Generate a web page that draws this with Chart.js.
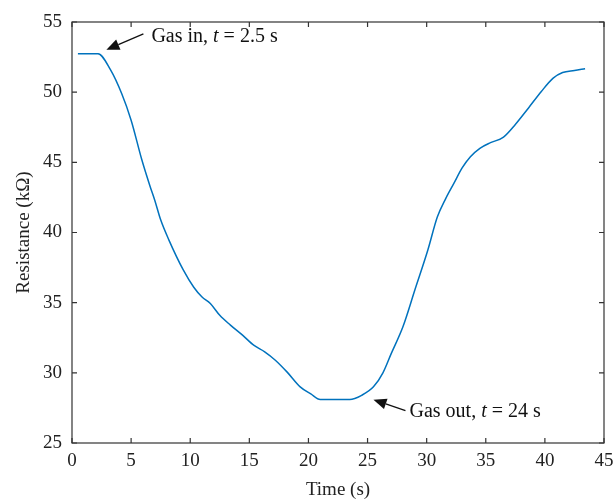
<!DOCTYPE html>
<html>
<head>
<meta charset="utf-8">
<script src="https://cdn.jsdelivr.net/npm/chart.js@4/dist/chart.umd.min.js"></script>
<style>
  html, body { margin: 0; padding: 0; background: #fff; }
  #wrap { width: 615px; height: 502px; position: relative; }
</style>
</head>
<body>
<div id="wrap"><canvas id="chart"></canvas></div>
<script>
// 数据：时间 (s) 与电阻 (kΩ)
const timeSec = [0.5, 2.2, 3.25, 4.2, 5.0, 5.9, 6.6, 7.0, 7.5, 8.2, 9.4, 10.3, 11.0, 11.7, 12.5, 13.4, 14.4, 15.4, 16.3, 17.2, 18.2, 19.3, 20.2, 21.0, 22.0, 23.5, 24.5, 25.5, 26.3, 27.0, 28.0, 29.0, 30.1, 30.9, 31.6, 32.3, 33.0, 33.7, 34.5, 35.4, 36.5, 37.5, 38.6, 39.7, 40.7, 41.5, 42.5, 43.4];
const resistance = [52.74, 52.74, 51.6, 49.9, 48.0, 45.2, 43.3, 42.3, 40.9, 39.46, 37.35, 36.1, 35.4, 34.94, 34.1, 33.4, 32.7, 31.95, 31.5, 30.9, 30.05, 29.0, 28.5, 28.1, 28.1, 28.1, 28.4, 29.0, 30.0, 31.37, 33.3, 35.9, 38.75, 41.1, 42.4, 43.5, 44.6, 45.4, 46.0, 46.4, 46.8, 47.7, 48.86, 50.05, 51.0, 51.4, 51.55, 51.67];

// 刻度
const xTicks = [0, 5, 10, 15, 20, 25, 30, 35, 40, 45];
const yTicks = [25, 30, 35, 40, 45, 50, 55];

// 注释：箭头尖端（数据坐标）
const notes = [
  { pre: 'Gas in, ', it: 't', post: ' = 2.5 s', x: 2.91, y: 53.02, tail: [37, -16], text: [45, -8] },
  { pre: 'Gas out, ', it: 't', post: ' = 24 s', x: 25.5, y: 28.09, tail: [32, 11], text: [36, 17] }
];

const SERIF = '"Liberation Serif", "DejaVu Serif", serif';
const AXIS_COLOR = '#333';
const FONT_SIZE = 19;

// 边框、内向刻度和注释
const boxPlugin = {
  id: 'boxTicks',
  afterDatasetsDraw(chart) {
    const { ctx, chartArea: a, scales } = chart;
    ctx.save();
    ctx.strokeStyle = AXIS_COLOR;
    ctx.lineWidth = 1.2;
    ctx.strokeRect(a.left, a.top, a.right - a.left, a.bottom - a.top);
    const len = 5;
    ctx.beginPath();
    xTicks.forEach(v => {
      const px = scales.x.getPixelForValue(v);
      ctx.moveTo(px, a.bottom); ctx.lineTo(px, a.bottom - len);
      ctx.moveTo(px, a.top); ctx.lineTo(px, a.top + len);
    });
    yTicks.forEach(v => {
      const py = scales.y.getPixelForValue(v);
      ctx.moveTo(a.left, py); ctx.lineTo(a.left + len, py);
      ctx.moveTo(a.right, py); ctx.lineTo(a.right - len, py);
    });
    ctx.stroke();

    // 箭头
    notes.forEach(n => {
      const tx = scales.x.getPixelForValue(n.x);
      const ty = scales.y.getPixelForValue(n.y);
      const sx = tx + n.tail[0], sy = ty + n.tail[1];
      const ang = Math.atan2(ty - sy, tx - sx);
      const headLen = 13, headW = 5.5;
      const bx = tx - headLen * Math.cos(ang), by = ty - headLen * Math.sin(ang);
      ctx.strokeStyle = '#111';
      ctx.fillStyle = '#111';
      ctx.lineWidth = 1.3;
      ctx.beginPath();
      ctx.moveTo(sx, sy); ctx.lineTo(bx, by);
      ctx.stroke();
      ctx.beginPath();
      ctx.moveTo(tx, ty);
      ctx.lineTo(bx + headW * Math.sin(ang), by - headW * Math.cos(ang));
      ctx.lineTo(bx - headW * Math.sin(ang), by + headW * Math.cos(ang));
      ctx.closePath();
      ctx.fill();

      // 文字（t 为斜体）
      let x = tx + n.text[0];
      const y = ty + n.text[1];
      ctx.textBaseline = 'alphabetic';
      ctx.textAlign = 'left';
      ctx.fillStyle = '#111';
      ctx.font = '20px ' + SERIF;
      ctx.fillText(n.pre, x, y);
      x += ctx.measureText(n.pre).width;
      ctx.font = 'italic 20px ' + SERIF;
      ctx.fillText(n.it, x, y);
      x += ctx.measureText(n.it).width;
      ctx.font = '20px ' + SERIF;
      ctx.fillText(n.post, x, y);
    });
    ctx.restore();
  }
};

function initChart() {
  const ctx = document.getElementById('chart').getContext('2d');
  new Chart(ctx, {
    type: 'line',
    data: {
      datasets: [{
        data: timeSec.map((t, i) => ({ x: t, y: resistance[i] })),
        borderColor: '#0072BD',
        borderWidth: 1.5,
        pointRadius: 0,
        fill: false,
        cubicInterpolationMode: 'monotone'
      }]
    },
    options: {
      responsive: true,
      maintainAspectRatio: false,
      animation: false,
      layout: { padding: { top: 22, right: 11, left: 0, bottom: 0 } },
      plugins: { legend: { display: false }, tooltip: { enabled: false } },
      scales: {
        x: {
          type: 'linear',
          min: 0, max: 45,
          afterBuildTicks: s => { s.ticks = xTicks.map(v => ({ value: v })); },
          afterFit: s => { s.height = 59; s.paddingLeft = 0; s.paddingRight = 0; },
          grid: { display: false, drawTicks: false },
          border: { display: false },
          ticks: { color: '#222', font: { family: SERIF, size: FONT_SIZE }, padding: 7, maxRotation: 0 },
          title: { display: true, text: 'Time (s)', color: '#222', font: { family: SERIF, size: FONT_SIZE }, padding: { top: 0, bottom: 1 } }
        },
        y: {
          type: 'linear',
          min: 25, max: 55,
          afterBuildTicks: s => { s.ticks = yTicks.map(v => ({ value: v })); },
          afterFit: s => { s.width = 72; s.paddingTop = 0; s.paddingBottom = 0; },
          grid: { display: false, drawTicks: false },
          border: { display: false },
          ticks: { color: '#222', font: { family: SERIF, size: FONT_SIZE }, padding: 10 },
          title: { display: true, text: 'Resistance (kΩ)', color: '#222', font: { family: SERIF, size: FONT_SIZE }, padding: { top: 13, bottom: 0 } }
        }
      }
    },
    plugins: [boxPlugin]
  });
}

document.addEventListener('DOMContentLoaded', initChart);
</script>
</body>
</html>
